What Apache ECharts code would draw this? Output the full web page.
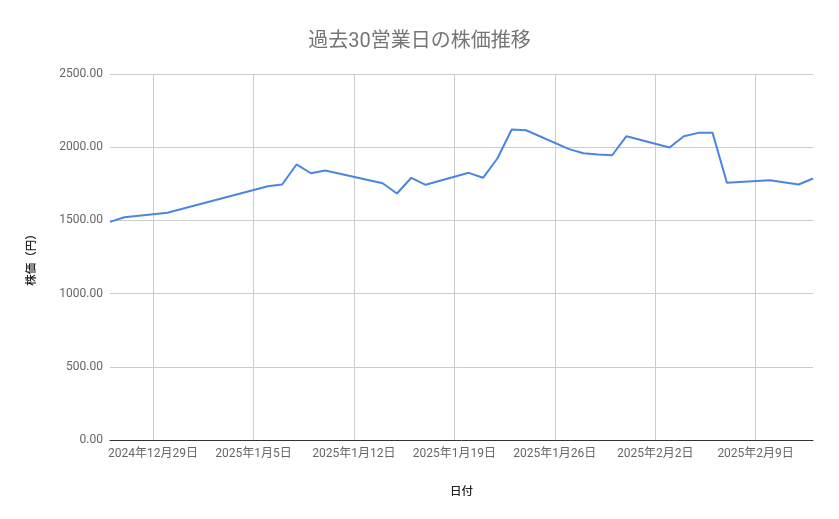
<!DOCTYPE html>
<html><head><meta charset="utf-8">
<script src="https://cdn.jsdelivr.net/npm/echarts@6/dist/echarts.min.js"></script>
<style>html,body{margin:0;padding:0;background:#fff}#c{width:839px;height:519px}</style>
</head><body><div id="c"></div>
<script>
const titleText = '過去30営業日の株価推移';
const xName = '日付';
const yName = '株価（円）';
const dates = ['2024-12-26','2024-12-27','2024-12-30','2025-01-06','2025-01-07','2025-01-08','2025-01-09','2025-01-10',
  '2025-01-14','2025-01-15','2025-01-16','2025-01-17','2025-01-20','2025-01-21','2025-01-22','2025-01-23','2025-01-24',
  '2025-01-27','2025-01-28','2025-01-29','2025-01-30','2025-01-31','2025-02-03','2025-02-04','2025-02-05','2025-02-06',
  '2025-02-07','2025-02-10','2025-02-12','2025-02-13'];
const prices = [1490,1522,1552,1733,1745,1882,1822,1841,
  1754,1684,1791,1743,1825,1791,1923,2121,2116,
  1987,1959,1950,1945,2075,1998,2075,2098,2098,
  1757,1775,1745,1786];
const xTicks = ['2024-12-29','2025-01-05','2025-01-12','2025-01-19','2025-01-26','2025-02-02','2025-02-09'];
const yTicks = [0,500,1000,1500,2000,2500];

const DAY = 86400000;
const base = Date.UTC(2024,11,29);
function dayNum(s){const p=s.split('-').map(Number);return Math.round((Date.UTC(p[0],p[1]-1,p[2])-base)/DAY);}
function fmt(v){const d=new Date(base+Math.round(v)*DAY);return d.getUTCFullYear()+'年'+(d.getUTCMonth()+1)+'月'+d.getUTCDate()+'日';}

const font = 'Roboto, "Noto Sans CJK JP", sans-serif';
const chart = echarts.init(document.getElementById('c'));
chart.setOption({
  animation:false,
  title:{text:titleText,left:'center',top:27,textStyle:{fontFamily:font,fontSize:20,fontWeight:'normal',color:'#757575'}},
  grid:{left:110,right:26,top:74,bottom:79,containLabel:false},
  xAxis:{type:'value',min:dayNum(dates[0]),max:dayNum(dates[dates.length-1]),
    name:xName,nameLocation:'middle',nameGap:46,
    nameTextStyle:{fontFamily:font,fontSize:11.5,color:'#222',fontWeight:500},
    axisLine:{show:true,lineStyle:{color:'#333',width:1}},
    axisTick:{show:false,customValues:xTicks.map(dayNum)},
    axisLabel:{customValues:xTicks.map(dayNum),formatter:fmt,fontFamily:font,fontSize:12,color:'#666',margin:8,hideOverlap:false},
    splitLine:{show:true,lineStyle:{color:'#cccccc',width:1}}
  },
  yAxis:{type:'value',min:yTicks[0],max:yTicks[yTicks.length-1],interval:500,
    name:yName,nameLocation:'middle',nameGap:72,
    nameTextStyle:{fontFamily:font,fontSize:11.5,color:'#222',fontWeight:500},
    axisLine:{show:false},axisTick:{show:false},
    axisLabel:{formatter:v=>v.toFixed(2),fontFamily:font,fontSize:12,color:'#666',margin:7},
    splitLine:{lineStyle:{color:'#cccccc',width:1}}
  },
  series:[{type:'line',data:dates.map((d,i)=>[dayNum(d),prices[i]]),showSymbol:false,symbol:'none',
    lineStyle:{color:'#4a86e0',width:2},itemStyle:{color:'#4a86e0'}}]
});
</script></body></html>
